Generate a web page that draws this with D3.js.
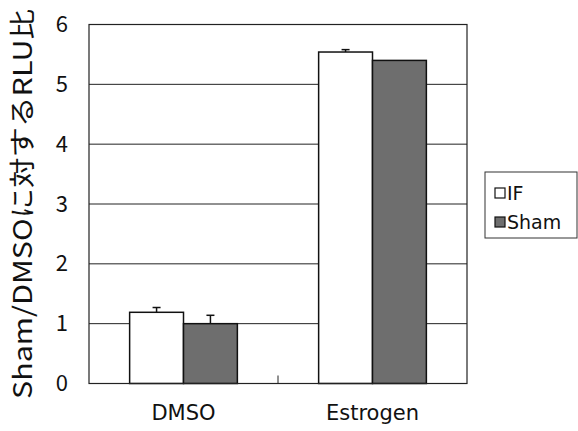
<!DOCTYPE html>
<html>
<head>
<meta charset="utf-8">
<script src="https://cdn.jsdelivr.net/npm/d3@7"></script>
<style>
  body { margin: 0; background: #fff; }
  svg { display: block; }
</style>
</head>
<body>
<div id="chart"></div>
<script>
const categories = ['DMSO', 'Estrogen']
const seriesNames = ['IF', 'Sham']
const ifValues = [1.19, 5.54]
const ifErrors = [0.08, 0.04]
const shamValues = [1.0, 5.40]
const shamErrors = [0.14, 0]
const yTicks = [0, 1, 2, 3, 4, 5, 6]
const yTitle = 'Sham/DMSOに対するRLU比'

const dimensions = {
  width: 578,
  height: 431,
  margin: { top: 24.5, right: 111, bottom: 47.5, left: 89 }
}
const seriesFill = { IF: '#ffffff', Sham: '#6e6e6e' }
const cjkFont = "'Noto Sans CJK JP', sans-serif"
const latinFont = "'DejaVu Sans', sans-serif"

// table built from the arrays above
const rows = categories.map((c, i) => ({
  category: c,
  bars: [
    { series: 'IF', value: ifValues[i], err: ifErrors[i] },
    { series: 'Sham', value: shamValues[i], err: shamErrors[i] }
  ]
}))

const svg = d3.select('#chart')
  .append('svg')
  .attr('width', dimensions.width)
  .attr('height', dimensions.height)

const x0 = d3.scaleBand()
  .domain(categories)
  .range([dimensions.margin.left, dimensions.width - dimensions.margin.right])
const groupWidth = x0.bandwidth() * 0.57
const x1 = d3.scaleBand()
  .domain(seriesNames)
  .range([0, groupWidth])
const y = d3.scaleLinear()
  .domain([0, 6])
  .range([dimensions.height - dimensions.margin.bottom, dimensions.margin.top])

const left = dimensions.margin.left
const right = dimensions.width - dimensions.margin.right

// gridlines
svg.append('g')
  .selectAll('line')
  .data(yTicks.filter(t => t > 0 && t < 6))
  .join('line')
  .attr('x1', left)
  .attr('x2', right)
  .attr('y1', d => y(d))
  .attr('y2', d => y(d))
  .attr('stroke', '#222')
  .attr('stroke-width', 1)

// bars
const groups = svg.append('g')
  .selectAll('g')
  .data(rows)
  .join('g')
  .attr('transform', d => `translate(${x0(d.category) + (x0.bandwidth() - groupWidth) / 2}, 0)`)

groups.selectAll('rect')
  .data(d => d.bars)
  .join('rect')
  .attr('x', d => x1(d.series))
  .attr('y', d => y(d.value))
  .attr('width', x1.bandwidth())
  .attr('height', d => y(0) - y(d.value))
  .attr('fill', d => seriesFill[d.series])
  .attr('stroke', '#111')
  .attr('stroke-width', 1.5)

// error bars (upper only)
const errs = groups.selectAll('g.err')
  .data(d => d.bars.filter(b => b.err > 0))
  .join('g')
  .attr('class', 'err')
errs.append('line')
  .attr('x1', d => x1(d.series) + x1.bandwidth() / 2)
  .attr('x2', d => x1(d.series) + x1.bandwidth() / 2)
  .attr('y1', d => y(d.value))
  .attr('y2', d => y(d.value + d.err))
  .attr('stroke', '#111')
  .attr('stroke-width', 1.5)
errs.append('line')
  .attr('x1', d => x1(d.series) + x1.bandwidth() / 2 - 4)
  .attr('x2', d => x1(d.series) + x1.bandwidth() / 2 + 4)
  .attr('y1', d => y(d.value + d.err))
  .attr('y2', d => y(d.value + d.err))
  .attr('stroke', '#111')
  .attr('stroke-width', 1.5)

// plot frame
svg.append('rect')
  .attr('x', left)
  .attr('y', y(6))
  .attr('width', right - left)
  .attr('height', y(0) - y(6))
  .attr('fill', 'none')
  .attr('stroke', '#222')
  .attr('stroke-width', 1.2)

// category divider tick (inside)
svg.append('g')
  .selectAll('line')
  .data(categories.slice(1))
  .join('line')
  .attr('x1', d => x0(d))
  .attr('x2', d => x0(d))
  .attr('y1', y(0))
  .attr('y2', y(0) - 8)
  .attr('stroke', '#222')

// y axis labels
const yAxis = d3.axisLeft(y).tickValues(yTicks).tickFormat(d3.format('d')).tickSize(0).tickPadding(21)
svg.append('g')
  .attr('transform', `translate(${left}, 0)`)
  .call(yAxis)
  .call(g => g.select('.domain').remove())
  .call(g => g.selectAll('text')
    .style('font-size', '22px')
    .style('font-family', cjkFont)
    .attr('fill', '#111'))

// x axis labels
const xAxis = d3.axisBottom(x0).tickSize(0).tickPadding(22)
svg.append('g')
  .attr('transform', `translate(0, ${y(0)})`)
  .call(xAxis)
  .call(g => g.select('.domain').remove())
  .call(g => g.selectAll('text')
    .style('font-size', '21px')
    .style('font-family', latinFont)
    .attr('fill', '#111'))

// y title
svg.append('text')
  .attr('transform', `translate(32, ${(y(0) + y(6)) / 2}) rotate(-90)`)
  .attr('text-anchor', 'middle')
  .style('font-size', '26px')
  .style('font-family', cjkFont)
  .attr('fill', '#111')
  .attr('textLength', 390)
  .attr('lengthAdjust', 'spacingAndGlyphs')
  .text(yTitle)

// legend
const legend = svg.append('g').attr('transform', 'translate(485, 172)')
legend.append('rect')
  .attr('width', 92)
  .attr('height', 66)
  .attr('fill', '#fff')
  .attr('stroke', '#333')
  .attr('stroke-width', 1)
const items = legend.selectAll('g.item')
  .data(seriesNames)
  .join('g')
  .attr('class', 'item')
  .attr('transform', (d, i) => `translate(10, ${21 + i * 29})`)
items.append('rect')
  .attr('x', 0)
  .attr('y', -5)
  .attr('width', 10)
  .attr('height', 10)
  .attr('fill', d => seriesFill[d])
  .attr('stroke', '#111')
  .attr('stroke-width', 1.2)
items.append('text')
  .attr('x', 12)
  .attr('dy', '0.36em')
  .style('font-size', '19px')
  .style('font-family', latinFont)
  .attr('fill', '#111')
  .text(d => d)
</script>
</body>
</html>
